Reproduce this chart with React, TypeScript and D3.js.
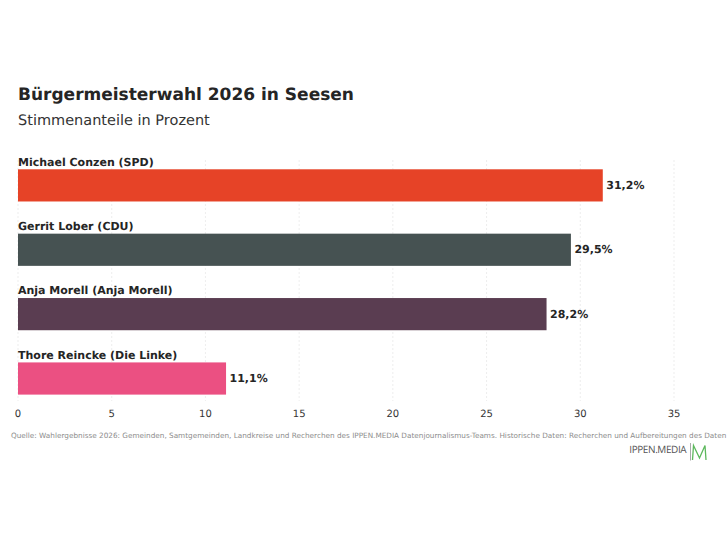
import * as d3 from "d3"

const candidates = ["Michael Conzen (SPD)", "Gerrit Lober (CDU)", "Anja Morell (Anja Morell)", "Thore Reincke (Die Linke)"]
const shares = [31.2, 29.5, 28.2, 11.1]
const colors = ["#e64327", "#465252", "#5a3d51", "#eb5082"]
const xTicks = [0, 5, 10, 15, 20, 25, 30, 35]

const width = 728
const height = 546
const font = "'DejaVu Sans', sans-serif"

const x = d3.scaleLinear().domain([0, 35]).range([18, 674])
const y = d3.scaleBand<string>().domain(candidates).range([153.2, 410.7]).paddingInner(0.5).paddingOuter(0.25)

const fmt = (v: number) => v.toFixed(1).replace(".", ",") + "%"

export default function App() {
  return (
    <svg
      width={width}
      height={height}
      viewBox={`0 0 ${width} ${height}`}
      textRendering="geometricPrecision"
      style={{ position: "absolute", left: 0, top: 0, background: "#fff", fontFamily: font }}
    >
      <text x={18} y={100} fontSize={17} fontWeight={700} fill="#252525">Bürgermeisterwahl 2026 in Seesen</text>
      <text x={18} y={125} fontSize={14.5} fill="#333">Stimmenanteile in Prozent</text>

      {/* grid */}
      {xTicks.map((t) => (
        <line key={t} x1={x(t)} x2={x(t)} y1={160} y2={401} stroke="#e8e8e8" strokeWidth={0.8} strokeDasharray="2,2" />
      ))}

      {/* bars */}
      {candidates.map((c, i) => {
        const by = y(c)!
        const bh = y.bandwidth()
        return (
          <g key={c}>
            <text x={18} y={by - 3.7} fontSize={11} fontWeight={700} fill="#252525">{c}</text>
            <rect x={x(0)} y={by} width={x(shares[i]) - x(0)} height={bh} fill={colors[i]} />
            <text x={x(shares[i]) + 3.5} y={by + bh / 2 + 3.6} fontSize={11} fontWeight={700} fill="#252525">{fmt(shares[i])}</text>
          </g>
        )
      })}

      {/* axis labels */}
      {xTicks.map((t) => (
        <text key={t} x={x(t)} y={417} fontSize={10} textAnchor="middle" fill="#333">{t}</text>
      ))}

      <text x={11} y={438} fontSize={7.29} fill="#8c8c8c">
        Quelle: Wahlergebnisse 2026: Gemeinden, Samtgemeinden, Landkreise und Recherchen des IPPEN.MEDIA Datenjournalismus-Teams. Historische Daten: Recherchen und Aufbereitungen des Daten
      </text>

      {/* logo */}
      <text x={686.3} y={452.5} fontSize={10} textAnchor="end" fontFamily="'Open Sans', sans-serif" fill="#555" letterSpacing={-0.4}>IPPEN.MEDIA</text>
      <line x1={690.5} x2={690.5} y1={443} y2={460.5} stroke="#aaa" strokeWidth={1} />
      <path d="M692.5 460 L693.5 445.5 L699.5 458 L705 445.5 L706 460" fill="none" stroke="#5cb85c" strokeWidth={1.3} />
    </svg>
  )
}
